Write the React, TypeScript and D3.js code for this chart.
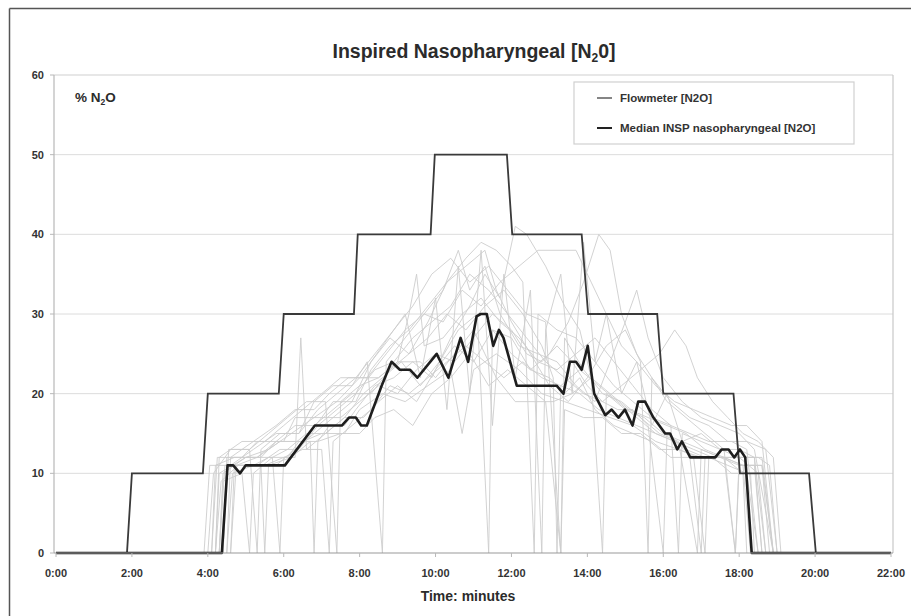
import React from "react";
import * as d3 from "d3";

/* ---- data (minutes, % N2O) ---- */
const xTicks = [0, 2, 4, 6, 8, 10, 12, 14, 16, 18, 20, 22];
const yTicks = [0, 10, 20, 30, 40, 50, 60];

const flowT = [0, 1.87, 2.0, 3.87, 4.0, 5.87, 6.0, 7.85, 7.95, 9.87, 9.98, 11.88, 12.02, 13.85, 14.02, 15.84, 16.0, 17.85, 18.02, 19.84, 20.02, 22];
const flowV = [0, 0, 10, 10, 20, 20, 30, 30, 40, 40, 50, 50, 40, 40, 30, 30, 20, 20, 10, 10, 0, 0];

const medianT = [0, 4.37, 4.52, 4.67, 4.85, 5.0, 6.03, 6.82, 7.53, 7.72, 7.9, 8.04, 8.19, 8.58, 8.84, 9.06, 9.33, 9.52, 10.03, 10.34, 10.66, 10.86, 11.08, 11.19, 11.35, 11.52, 11.67, 11.79, 12.14, 13.19, 13.37, 13.54, 13.7, 13.85, 14.01, 14.18, 14.47, 14.64, 14.82, 14.99, 15.19, 15.34, 15.52, 15.74, 16.05, 16.18, 16.37, 16.49, 16.71, 17.37, 17.54, 17.72, 17.87, 18.02, 18.16, 18.33, 22];
const medianV = [0, 0, 11, 11, 10, 11, 11, 16, 16, 17, 17, 16, 16, 21, 24, 23, 23, 22, 25, 22, 27, 24, 29.7, 30, 30, 26, 28, 27, 21, 21, 20, 24, 24, 23, 26, 20, 17.3, 18, 17, 18, 16, 19, 19, 17, 15, 15, 13, 14, 12, 12, 13, 13, 12, 13, 12, 0, 0];

// individual patient traces (light grey)
const patientA = [[4.1,0],[4.25,12],[4.9,12],[5.3,14],[6.0,14],[6.3,17],[7.0,17],[7.3,19],[7.9,19],[8.3,23],[8.8,26],[9.3,28],[9.8,31],[10.3,34],[10.8,37],[11.2,39],[11.6,38],[12.0,36],[12.3,34],[12.6,0],[12.7,30],[13.2,28],[13.7,27],[14.2,24],[14.7,21],[15.2,19],[15.7,17],[16.2,16],[16.7,15],[17.2,14],[17.8,14],[18.2,13],[18.5,0]];
const patientB = [[4.3,0],[4.45,11],[5.2,11],[5.6,12],[6.1,12],[6.4,14],[6.9,14],[7.2,16],[7.6,16],[7.9,18],[8.4,21],[8.9,22],[9.4,24],[9.9,22],[10.4,27],[10.9,31],[11.3,35],[11.7,32],[12.1,41],[12.4,40],[12.9,36],[13.4,31],[13.8,28],[14.1,22],[14.4,0],[14.5,20],[15.0,18],[15.5,17],[16.0,15],[16.5,14],[17.0,13],[17.5,12],[18.0,11],[18.6,11],[18.8,0]];
const patientC = [[4.0,0],[4.15,10],[4.6,13],[5.1,13],[5.3,0],[5.4,13],[5.9,15],[6.4,15],[6.8,19],[7.3,21],[7.8,21],[8.2,24],[8.6,0],[8.7,24],[9.2,27],[9.7,30],[10.2,33],[10.6,38],[10.9,33],[11.3,36],[11.7,30],[12.2,26],[12.7,25],[13.2,24],[13.7,21],[14.2,19],[14.6,24],[15.0,29],[15.3,33],[15.6,27],[16.0,22],[16.5,19],[17.0,17],[17.5,16],[18.0,15],[18.4,13],[18.9,0]];
const patientD = [[4.4,0],[4.5,11],[5.5,11],[6.0,12],[6.3,12],[6.45,27],[6.6,13],[7.1,15],[7.6,17],[8.1,17],[8.5,19],[9.0,21],[9.5,19],[10.0,23],[10.5,26],[11.0,24],[11.5,28],[12.0,27],[12.5,23],[13.0,22],[13.4,20],[13.8,22],[14.2,18],[14.7,16],[15.2,15],[15.7,14],[16.2,12],[16.7,12],[17.0,0],[17.1,12],[17.6,12],[18.1,11],[18.3,0]];
const patientE = [[4.2,0],[4.35,9],[4.8,11],[5.4,11],[5.5,0],[5.6,11],[6.2,12],[6.7,14],[6.8,0],[6.9,14],[7.5,15],[8.0,15],[8.4,17],[8.9,18],[9.4,16],[9.9,20],[10.4,22],[10.9,25],[11.4,21],[11.9,23],[12.4,21],[12.9,19],[13.3,0],[13.4,18],[13.9,17],[14.4,17],[14.9,15],[15.4,15],[15.9,13],[16.4,13],[16.9,12],[17.4,12],[17.9,12],[18.5,12],[18.8,11],[19.0,0]];
const patientF = [[4.5,0],[4.6,12],[5.2,14],[5.8,16],[6.3,18],[6.8,18],[7.2,20],[7.7,22],[8.2,22],[8.7,25],[9.2,28],[9.7,30],[10.2,29],[10.7,33],[11.2,31],[11.7,34],[12.2,36],[12.7,38],[13.2,38],[13.7,38],[14.1,34],[14.5,30],[14.9,26],[15.3,24],[15.8,21],[16.3,19],[16.8,18],[17.3,17],[17.8,16],[18.2,16],[18.6,14],[18.9,0]];
const patientG = [[4.3,0],[4.4,10],[5.0,12],[5.7,12],[6.1,13],[6.6,15],[7.1,15],[7.6,17],[8.1,20],[8.6,22],[9.1,24],[9.6,21],[10.1,24],[10.6,28],[11.1,30],[11.4,0],[11.5,28],[12.0,25],[12.5,23],[13.0,25],[13.5,29],[13.9,34],[14.3,40],[14.6,38],[14.9,30],[15.3,25],[15.7,22],[16.1,19],[16.6,17],[17.1,15],[17.6,13],[17.9,0],[18.0,12],[18.4,12],[18.6,0]];
const patientH = [[4.6,0],[4.7,11],[5.3,11],[5.9,13],[6.4,13],[6.9,16],[7.4,18],[7.9,20],[8.4,23],[8.9,24],[9.4,27],[9.9,29],[10.4,31],[10.9,35],[11.4,33],[11.9,30],[12.4,27],[12.9,24],[13.4,22],[13.9,20],[14.4,19],[14.9,21],[15.4,23],[15.9,25],[16.3,28],[16.6,26],[16.9,22],[17.3,19],[17.7,17],[18.1,15],[18.5,14],[18.9,12],[19.1,0]];
const patientI = [[4.1,0],[4.2,11],[4.7,12],[5.3,12],[5.8,14],[6.3,16],[6.8,16],[7.3,18],[7.8,20],[8.3,20],[8.8,23],[9.3,25],[9.8,27],[10.3,30],[10.8,28],[11.3,31],[11.8,33],[12.3,30],[12.8,26],[13.1,22],[13.2,0],[13.3,21],[13.8,20],[14.3,18],[14.8,17],[15.3,16],[15.8,15],[16.3,14],[16.8,13],[17.3,12],[17.8,10],[18.3,10],[18.4,0]];
const patientJ = [[4.4,0],[4.55,13],[5.1,13],[5.6,15],[6.1,17],[6.6,19],[7.1,19],[7.4,0],[7.5,19],[8.0,21],[8.5,22],[9.0,24],[9.3,30],[9.5,35],[9.7,26],[10.2,27],[10.7,30],[11.2,32],[11.7,29],[12.2,27],[12.7,24],[13.2,23],[13.7,25],[14.2,27],[14.7,24],[15.2,21],[15.7,18],[16.2,16],[16.4,0],[16.5,15],[17.0,14],[17.5,13],[18.0,13],[18.4,12],[18.7,0]];
const patientK = [[4.2,0],[4.3,12],[4.9,14],[5.5,14],[6.0,16],[6.5,18],[7.0,20],[7.5,22],[8.5,22],[9.0,24],[9.6,24],[10.0,22],[10.5,25],[11.0,28],[11.3,25],[11.6,22],[12.1,19],[12.6,19],[13.1,19],[13.6,20],[14.1,22],[14.6,20],[15.1,18],[15.6,17],[16.1,16],[16.6,15],[17.1,13],[17.6,12],[18.1,10],[18.2,0]];
const patientL = [[4.5,0],[4.65,10],[5.2,11],[5.8,11],[6.3,13],[6.8,15],[7.3,17],[7.8,19],[8.3,24],[8.8,27],[9.3,25],[9.8,29],[10.3,34],[10.8,36],[11.3,38],[11.6,33],[12.0,29],[12.5,25],[13.0,21],[13.5,19],[14.0,22],[14.5,26],[15.0,28],[15.4,24],[15.6,0],[15.7,22],[16.2,19],[16.7,17],[17.2,16],[17.7,14],[18.2,14],[18.7,13],[19.0,0]];
const patientM = [[4.3,0],[4.4,9],[4.9,10],[5.1,0],[5.2,10],[5.7,12],[5.9,0],[6.0,12],[6.5,13],[7.0,13],[7.2,0],[7.3,14],[7.8,16],[8.3,18],[8.8,21],[9.3,20],[9.8,22],[10.3,24],[10.8,26],[11.3,24],[11.8,22],[12.3,24],[12.8,22],[13.3,21],[13.8,23],[14.3,21],[14.8,19],[15.3,17],[15.8,15],[16.3,14],[16.8,12],[17.1,0],[17.2,12],[17.7,11],[18.2,10],[18.5,0]];
const patientN = [[4.6,0],[4.75,11],[5.3,12],[5.9,14],[6.5,14],[7.0,17],[7.5,17],[8.0,19],[8.5,21],[9.0,20],[9.5,23],[10.0,25],[10.5,24],[11.0,27],[11.5,30],[12.0,28],[12.4,25],[12.8,24],[13.2,26],[13.6,24],[14.0,21],[14.4,19],[14.8,18],[15.2,18],[15.6,16],[16.0,0],[16.1,15],[16.6,13],[17.1,12],[17.6,12],[18.1,11],[18.6,11],[18.9,0]];
const patientO = [[4.2,0],[4.3,10],[5.0,12],[5.6,13],[6.2,15],[6.8,17],[7.4,19],[8.0,22],[8.6,26],[9.2,30],[9.6,22],[10.0,32],[10.3,18],[10.6,36],[10.9,20],[11.2,38],[11.5,16],[11.8,35],[12.1,22],[12.5,33],[12.8,0],[12.9,28],[13.3,35],[13.6,20],[13.9,39],[14.2,24],[14.5,30],[14.9,20],[15.3,24],[15.7,16],[16.1,20],[16.5,14],[17.0,15],[17.5,13],[18.0,12],[18.5,10],[18.7,0]];
const patientP = [[4.4,0],[4.5,12],[5.4,12],[5.8,14],[6.5,14],[7.0,15],[7.6,15],[8.0,18],[8.6,20],[9.2,19],[9.8,21],[10.4,23],[10.7,15],[11.0,23],[11.6,25],[12.2,23],[12.8,20],[13.4,19],[14.0,18],[14.6,17],[15.2,16],[15.8,14],[16.4,13],[17.0,12],[17.6,12],[17.9,0],[18.0,11],[18.4,11],[18.6,0]];
const patientQ = [[3.9,0],[4.05,11],[4.6,11],[5.2,13],[5.8,15],[6.4,15],[6.9,18],[7.4,20],[7.9,22],[8.4,25],[8.9,28],[9.4,31],[9.9,35],[10.4,37],[10.9,34],[11.4,36],[11.9,33],[12.4,30],[12.9,29],[13.3,0],[13.4,27],[13.9,23],[14.4,20],[14.9,19],[15.4,17],[15.9,15],[16.4,14],[16.9,0],[17.0,13],[17.5,12],[18.0,12],[18.6,12],[18.9,0]];

const patients = [patientA, patientB, patientC, patientD, patientE, patientF, patientG, patientH, patientI, patientJ, patientK, patientL, patientM, patientN, patientO, patientP, patientQ];

const legendLabels = ["Flowmeter [N2O]", "Median INSP nasopharyngeal [N2O]"];

/* ---- layout ---- */
const W = 911;
const H = 616;
const FONT = "'Liberation Sans', Arial, sans-serif";

export default function App() {
  const x = d3.scaleLinear().domain([0, 22]).range([56, 891]);
  const y = d3.scaleLinear().domain([0, 60]).range([553, 75]);

  const line = d3
    .line<number[]>()
    .x((d) => x(d[0]))
    .y((d) => y(d[1]));

  const flow = flowT.map((t, i) => [t, flowV[i]]);
  const median = medianT.map((t, i) => [t, medianV[i]]);

  const fmt = (m: number) => `${m}:00`;

  return (
    <svg
      width={W}
      height={H}
      style={{ position: "absolute", left: 0, top: 0, background: "#fff" }}
      fontFamily={FONT}
    >
      {/* outer frame */}
      <line x1={9.5} y1={8.5} x2={W} y2={8.5} stroke="#555" strokeWidth={1.5} />
      <line x1={9.5} y1={8.5} x2={9.5} y2={H} stroke="#555" strokeWidth={1.5} />

      {/* title */}
      <text x={474} y={58} textAnchor="middle" fontSize={19.5} fontWeight="bold" fill="#2b2b2b">
        Inspired Nasopharyngeal [N
        <tspan fontSize={12} dy={4}>2</tspan>
        <tspan dy={-4}>0]</tspan>
      </text>

      {/* gridlines */}
      {yTicks.slice(1, -1).map((v) => (
        <line key={v} x1={54} x2={893} y1={y(v)} y2={y(v)} stroke="#dcdcdc" strokeWidth={1} />
      ))}
      {/* plot border */}
      <line x1={54} x2={893} y1={y(60)} y2={y(60)} stroke="#d0d0d0" strokeWidth={1.2} />
      <line x1={893} x2={893} y1={y(60)} y2={y(0)} stroke="#c8c8c8" strokeWidth={1.2} />

      {/* patient traces */}
      <g fill="none" stroke="#cdcdcd" strokeWidth={0.9}>
        {patients.map((p, i) => (
          <path key={i} d={line(p) || ""} />
        ))}
      </g>

      {/* flowmeter */}
      <path d={line(flow) || ""} fill="none" stroke="#3a3a3a" strokeWidth={1.8} />
      {/* median */}
      <path d={line(median) || ""} fill="none" stroke="#1e1e1e" strokeWidth={2.6} strokeLinejoin="round" />

      {/* axes */}
      <line x1={54} x2={54} y1={y(60)} y2={y(0)} stroke="#b8b8b8" strokeWidth={1.2} />
      <line x1={54} x2={893} y1={y(0)} y2={y(0)} stroke="#999" strokeWidth={1} />
      {yTicks.map((v) => (
        <g key={v}>
          <line x1={50} x2={54} y1={y(v)} y2={y(v)} stroke="#b8b8b8" />
          <text x={44} y={y(v)} dy="0.35em" textAnchor="end" fontSize={11} fontWeight="bold" fill="#333">
            {v}
          </text>
        </g>
      ))}
      {xTicks.map((m) => (
        <g key={m}>
          <line x1={x(m)} x2={x(m)} y1={553} y2={557} stroke="#b8b8b8" />
          <text x={x(m)} y={573} dy="0.35em" textAnchor="middle" fontSize={11} fontWeight="bold" fill="#333">
            {fmt(m)}
          </text>
        </g>
      ))}

      {/* axis titles */}
      <text x={75} y={102} fontSize={13.5} fontWeight="bold" fill="#2b2b2b">
        % N<tspan fontSize={8.5} dy={3}>2</tspan>
        <tspan dy={-3}>O</tspan>
      </text>
      <text x={468} y={601} textAnchor="middle" fontSize={14} fontWeight="bold" fill="#2b2b2b">
        Time: minutes
      </text>

      {/* legend */}
      <rect x={574} y={82} width={280} height={62} fill="#fff" stroke="#d0d0d0" strokeWidth={1.2} />
      <line x1={597} x2={612} y1={98} y2={98} stroke="#333" strokeWidth={1.2} />
      <text x={620} y={98} dy="0.35em" fontSize={11.5} fontWeight="bold" fill="#333">
        {legendLabels[0]}
      </text>
      <line x1={597} x2={612} y1={128} y2={128} stroke="#222" strokeWidth={2} />
      <text x={620} y={128} dy="0.35em" fontSize={11.5} fontWeight="bold" fill="#333">
        {legendLabels[1]}
      </text>
    </svg>
  );
}
